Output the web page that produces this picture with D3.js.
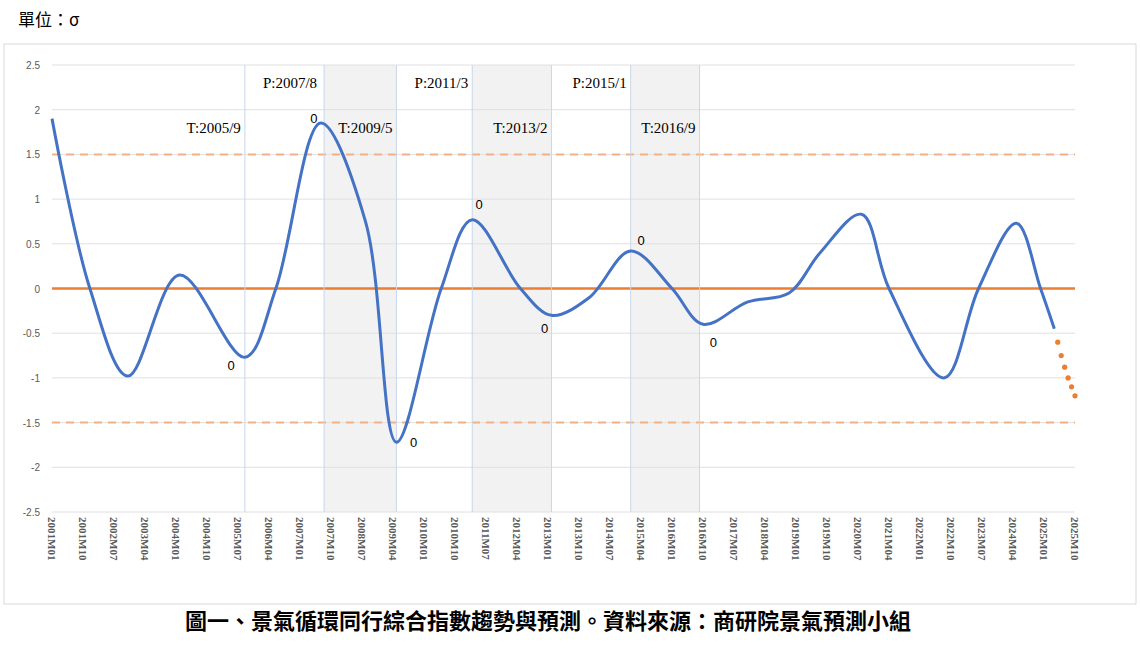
<!DOCTYPE html><html><head><meta charset="utf-8"><script src="https://cdn.jsdelivr.net/npm/d3@7"></script>
<style>body{margin:0;background:#fff}</style></head><body><svg id="c" width="1140" height="654"></svg>
<script>
const months=["2001M01","2001M12","2002M11","2004M02","2005M09","2006M06","2007M07","2008M08","2009M05","2010M06","2011M03","2012M05","2013M02","2014M01","2015M01","2016M01","2016M10","2017M11","2018M11","2019M08","2020M08","2021M04","2022M08","2023M06","2024M05","2024M12","2025M04"];
const values=[1.9,0,-0.98,0.15,-0.77,0,1.85,0.75,-1.72,0,0.77,0,-0.3,-0.1,0.42,0,-0.4,-0.15,-0.05,0.4,0.83,0,-1.0,0,0.73,0,-0.45];
const fcMonths=["2025M04","2025M05","2025M06","2025M07","2025M08","2025M09","2025M10"];
const fcValues=[-0.45,-0.6,-0.75,-0.88,-1.0,-1.1,-1.2];
const turns=[["P","2007M08"],["T","2009M05"],["P","2011M03"],["T","2013M02"],["P","2015M01"],["T","2016M09"]];
const preTurn=["T","2005M09"];
const zeroLabels=[["2005M05",-0.86],["2007M05",1.91],["2009M10",-1.72],["2011M05",0.95],["2012M12",-0.44],["2015M04",0.54],["2017M01",-0.6]];
const yTicks=[2.5,2,1.5,1,0.5,0,-0.5,-1,-1.5,-2,-2.5];
const idx=s=>(+s.slice(0,4)-2001)*12+(+s.slice(5)-1);
const xTicks=d3.range(0,298,9);
const lab=i=>{const y=2001+Math.floor(i/12),m=i%12+1;return y+"M"+String(m).padStart(2,"0");};
const svg=d3.select("#c");
const x=d3.scaleLinear().domain([0,297]).range([52,1075]);
const y=d3.scaleLinear().domain([-2.5,2.5]).range([512,65]);
svg.append("rect").attr("x",4).attr("y",44).attr("width",1132).attr("height",560).attr("fill","none").attr("stroke","#d9d9d9");
svg.append("text").attr("x",18).attr("y",26).attr("font-size",17).attr("font-family","Noto Sans CJK TC").text("單位：σ");
for(let i=0;i<turns.length;i+=2){svg.append("rect").attr("x",x(idx(turns[i][1]))).attr("y",65).attr("width",x(idx(turns[i+1][1]))-x(idx(turns[i][1]))).attr("height",447).attr("fill","#f2f2f2");}
svg.selectAll(".g").data(yTicks).enter().append("line").attr("x1",52).attr("x2",1075).attr("y1",d=>y(d)).attr("y2",d=>y(d)).attr("stroke","#e0e0e0");
svg.selectAll(".yl").data(yTicks).enter().append("text").attr("x",40).attr("y",d=>y(d)+4).attr("text-anchor","end").attr("font-size",10).attr("fill","#595959").attr("font-family","Liberation Sans").text(d=>d);
[1.5,-1.5].forEach(v=>svg.append("line").attr("x1",52).attr("x2",1075).attr("y1",y(v)).attr("y2",y(v)).attr("stroke","#f4b183").attr("stroke-width",2).attr("stroke-dasharray","8,6"));
svg.append("line").attr("x1",52).attr("x2",1075).attr("y1",y(0)).attr("y2",y(0)).attr("stroke","#ed7d31").attr("stroke-width",2.5);
[preTurn,...turns].forEach(t=>{const xx=x(idx(t[1]));svg.append("line").attr("x1",xx).attr("x2",xx).attr("y1",65).attr("y2",512).attr("stroke","#c9d6ea");
 const l=t[0]+":"+(+t[1].slice(0,4))+"/"+(+t[1].slice(5));
 svg.append("text").attr("x",xx-(t[1]=="2007M08"?7:4)).attr("y",t[0]=="P"?88:133).attr("text-anchor","end").attr("font-size",15).attr("font-family","Liberation Serif").text(l);});
const line=d3.line().x(d=>x(d[0])).y(d=>y(d[1])).curve(d3.curveCatmullRom.alpha(0.5));
svg.append("path").attr("d",line(months.map((m,i)=>[idx(m),values[i]]))).attr("fill","none").attr("stroke","#4472c4").attr("stroke-width",3);
svg.selectAll(".fc").data(fcMonths.slice(1)).enter().append("circle").attr("cx",d=>x(idx(d))).attr("cy",(d,i)=>y(fcValues[i+1])).attr("r",2.6).attr("fill","#ed7d31");
zeroLabels.forEach(([m,v])=>svg.append("text").attr("x",x(idx(m))).attr("y",y(v)+5).attr("text-anchor","middle").attr("font-size",13).attr("font-family","Liberation Sans").text("0"));
svg.selectAll(".xl").data(xTicks).enter().append("text").attr("transform",d=>`translate(${x(d)-4},517) rotate(90)`).attr("font-size",11).attr("font-weight","bold").attr("fill","#595959").attr("font-family","Liberation Serif").text(d=>lab(d));
svg.append("text").attr("x",548).attr("y",629).attr("text-anchor","middle").attr("font-size",22).attr("font-weight","bold").attr("font-family","Noto Sans CJK TC").text("圖一、景氣循環同行綜合指數趨勢與預測。資料來源：商研院景氣預測小組");
</script></body></html>
